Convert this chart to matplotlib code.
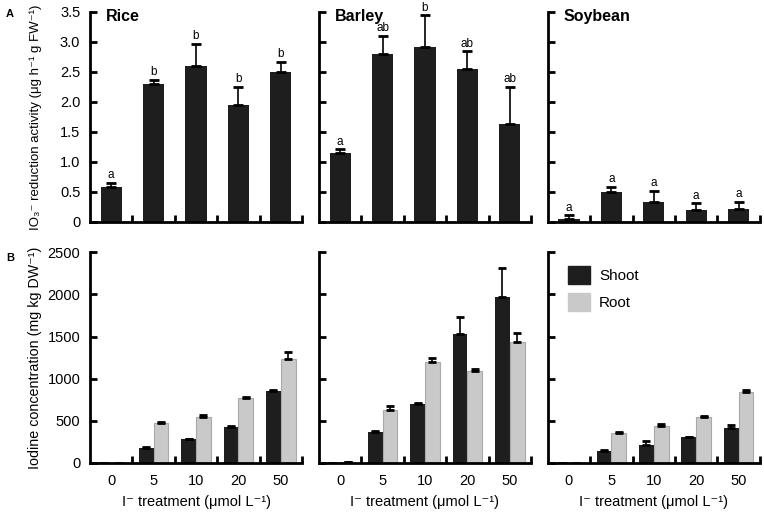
import matplotlib.pyplot as plt
import numpy as np
from matplotlib.patches import Patch

plt.rcParams['font.family'] = ['Liberation Sans', 'DejaVu Sans']

crops = ["Rice", "Barley", "Soybean"]
doses = ["0", "5", "10", "20", "50"]

# panel A: IO3- reduction activity
act = {
    "Rice": [0.59, 2.30, 2.60, 1.94, 2.49],
    "Barley": [1.15, 2.79, 2.91, 2.55, 1.64],
    "Soybean": [0.05, 0.50, 0.34, 0.20, 0.22],
}
act_err = {
    "Rice": [0.06, 0.07, 0.37, 0.31, 0.17],
    "Barley": [0.06, 0.31, 0.53, 0.29, 0.61],
    "Soybean": [0.06, 0.09, 0.18, 0.11, 0.11],
}
act_letters = {
    "Rice": ["a", "b", "b", "b", "b"],
    "Barley": ["a", "ab", "b", "ab", "ab"],
    "Soybean": ["a", "a", "a", "a", "a"],
}

# panel B: iodine concentration
shoot = {
    "Rice": [0, 178, 277, 420, 856],
    "Barley": [0, 368, 693, 1529, 1965],
    "Soybean": [0, 143, 210, 301, 416],
}
shoot_err = {
    "Rice": [0, 9, 9, 12, 10],
    "Barley": [0, 12, 12, 206, 349],
    "Soybean": [0, 12, 44, 9, 28],
}
root = {
    "Rice": [0, 475, 539, 768, 1232],
    "Barley": [10, 630, 1193, 1090, 1430],
    "Soybean": [0, 349, 436, 543, 840],
}
root_err = {
    "Rice": [0, 12, 30, 12, 87],
    "Barley": [0, 47, 47, 27, 115],
    "Soybean": [0, 19, 24, 12, 28],
}

dark = "#1e1e1e"
light = "#c9c9c9"

fig = plt.figure(figsize=(7.64, 5.15), dpi=100)
lefts = [0.1178, 0.4175, 0.717]
w = 0.2775
x = np.arange(5)


def style(ax, ymax, yticks, ylabels, show_y, show_x):
    ax.set_xlim(-0.5, 4.5)
    ax.set_ylim(0, ymax)
    for s in ["top", "right"]:
        ax.spines[s].set_visible(False)
    for s in ["left", "bottom"]:
        ax.spines[s].set_linewidth(2)
    ax.set_yticks(yticks)
    ax.set_yticklabels(ylabels if show_y else [])
    ax.tick_params(axis='y', direction='in', length=5, width=2, labelsize=10.5, pad=7)
    ax.set_xticks(x + 0.5, minor=True)
    ax.tick_params(axis='x', which='minor', direction='in', length=5, width=2)
    ax.set_xticks(x)
    ax.set_xticklabels(doses if show_x else [])
    ax.tick_params(axis='x', which='major', length=0, labelsize=10.5, pad=8)


for i, c in enumerate(crops):
    axA = fig.add_axes([lefts[i], 0.569, w, 0.408])
    axA.bar(x, act[c], width=0.5, color=dark, zorder=2)
    axA.errorbar(x, act[c], yerr=[np.zeros(5), act_err[c]], fmt='none',
                 ecolor='black', elinewidth=1.2, capsize=3.5, capthick=2, zorder=3)
    for k in range(5):
        axA.text(x[k], act[c][k] + act_err[c][k] + 0.03, act_letters[c][k],
                 ha='center', va='bottom', fontsize=8.5, clip_on=False)
    style(axA, 3.5, np.arange(0, 3.51, 0.5),
          ["0", "0.5", "1.0", "1.5", "2.0", "2.5", "3.0", "3.5"], i == 0, False)
    axA.text(0.075, 1.012, c, transform=axA.transAxes, fontsize=11.5,
             fontweight='bold', ha='left', va='top')

    axB = fig.add_axes([lefts[i], 0.1015, w, 0.4085])
    bw = 0.35
    axB.bar(x - bw / 2, shoot[c], width=bw, color=dark, zorder=2)
    axB.bar(x + bw / 2, root[c], width=bw, color=light, edgecolor="#a9a9a9",
            linewidth=0.8, zorder=2)
    axB.errorbar(x - bw / 2, shoot[c], yerr=[np.zeros(5), shoot_err[c]], fmt='none',
                 ecolor='black', elinewidth=1.2, capsize=3, capthick=2, zorder=3)
    axB.errorbar(x + bw / 2, root[c], yerr=[np.zeros(5), root_err[c]], fmt='none',
                 ecolor='black', elinewidth=1.2, capsize=3, capthick=2, zorder=3)
    style(axB, 2500, np.arange(0, 2501, 500),
          ["0", "500", "1000", "1500", "2000", "2500"], i == 0, True)
    axB.set_xlabel("I⁻ treatment (μmol L⁻¹)", fontsize=10.5)
    axB.xaxis.set_label_coords(0.5, -0.155)

    if i == 0:
        axA.set_ylabel("IO₃⁻ reduction activity (μg h⁻¹ g FW⁻¹)", fontsize=9.5)
        axA.yaxis.set_label_coords(-0.225, 0.5)
        axB.set_ylabel("Iodine concentration (mg kg DW⁻¹)", fontsize=10.3)
        axB.yaxis.set_label_coords(-0.225, 0.5)
    if i == 2:
        axB.legend(handles=[Patch(color=dark, label="Shoot"),
                            Patch(facecolor=light, edgecolor=light, label="Root")],
                   loc='upper left', bbox_to_anchor=(0.094, 0.935), frameon=False,
                   borderpad=0, borderaxespad=0, fontsize=11,
                   handlelength=1.45, handleheight=1.45,
                   labelspacing=0.55, handletextpad=0.6)

fig.text(0.008, 0.967, "A", fontsize=8, fontweight='bold', va='baseline')
fig.text(0.008, 0.493, "B", fontsize=8, fontweight='bold', va='baseline')

fig.savefig("out.png", dpi=100)
